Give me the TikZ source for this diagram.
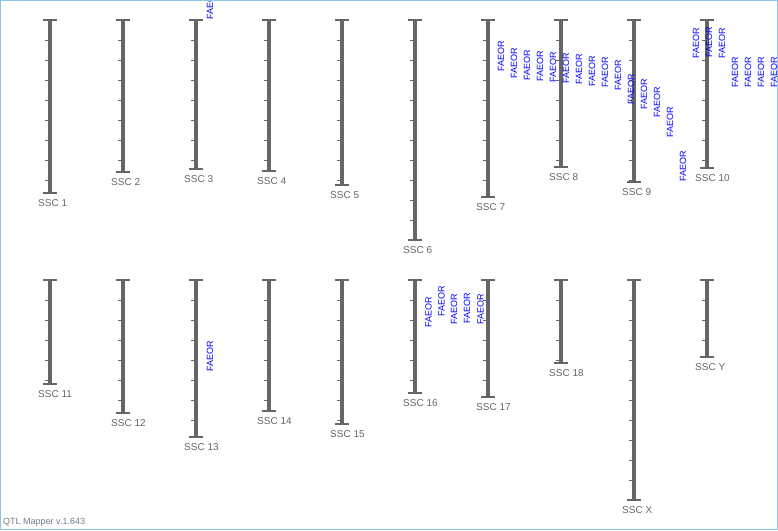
\documentclass[tikz,border=0pt]{standalone}
\usepackage{fontspec}
\setmainfont{Liberation Sans}
\definecolor{chrgray}{HTML}{666666}
\definecolor{qtlblue}{HTML}{0000FF}
\definecolor{framecol}{HTML}{8CC4EA}
\definecolor{vergray}{HTML}{6E7D8C}
\tikzset{
  chrbar/.style={draw=chrgray, line width=4pt},
  chrcap/.style={draw=chrgray, line width=2pt},
  chrtick/.style={draw=chrgray, line width=1.2pt},
  chrlabel/.style={text=chrgray, font=\fontsize{10}{12}\selectfont, inner sep=0pt, anchor=west},
  qtl/.style={text=qtlblue, font=\fontsize{9}{10}\selectfont, inner sep=0pt, rotate=90},
  verlabel/.style={text=vergray, font=\fontsize{9}{10}\selectfont, inner sep=0pt, anchor=west},
  frame/.style={draw=framecol, line width=1pt}
}
\begin{document}
\begin{tikzpicture}[x=1pt,y=-1pt]
\useasboundingbox (0,0) rectangle (778,530);
\begin{scope}
\clip (0,0) rectangle (778,530);
\foreach \n/\x/\t/\b in {1/50/20/193, 2/123/20/172, 3/196/20/169, 4/269/20/171, 5/342/20/185,
  6/415/20/240, 7/488/20/197, 8/561/20/167, 9/634/20/182, 10/707/20/168,
  11/50/280/384, 12/123/280/413, 13/196/280/437, 14/269/280/411, 15/342/280/424,
  16/415/280/393, 17/488/280/397, 18/561/280/363, X/634/280/500, Y/707/280/357} {
  \draw[chrbar] (\x,\t) -- (\x,\b);
  \draw[chrcap] (\x-7,\t) -- (\x+7,\t);
  \draw[chrcap] (\x-7,\b) -- (\x+7,\b);
  \pgfmathtruncatemacro\nt{(\b-\t-1)/20}
  \foreach \k in {1,...,\nt} {
    \draw[chrtick] (\x-5,\t+20*\k+0.5) -- (\x,\t+20*\k+0.5);
  }
  \node[chrlabel] (ssc\n) at (\x-12,\b+10) {SSC \n};
}
% QTL labels, top row
\node[qtl] (q3) at (210,4.5) {FAEOR};
\foreach \cy [count=\k from 0] in {56,63,65.5,66,67,68,69,71,72,75,89,94.5,102,122.7,166,43,42,43,72,72,72,72} {
  \node[qtl] (qa\k) at (501+13*\k,\cy) {FAEOR};
}
% QTL labels, bottom row
\node[qtl] (q13) at (210,356) {FAEOR};
\foreach \cx/\cy [count=\k] in {428.5/312,441.5/301,454/309,467/308,480.5/309.5} {
  \node[qtl] (qb\k) at (\cx,\cy) {FAEOR};
}
\node[verlabel] (ver) at (3,522) {QTL Mapper v.1.643};
\end{scope}
\draw[frame] (0.5,0.5) rectangle (777.5,529.5);
\end{tikzpicture}
\end{document}
